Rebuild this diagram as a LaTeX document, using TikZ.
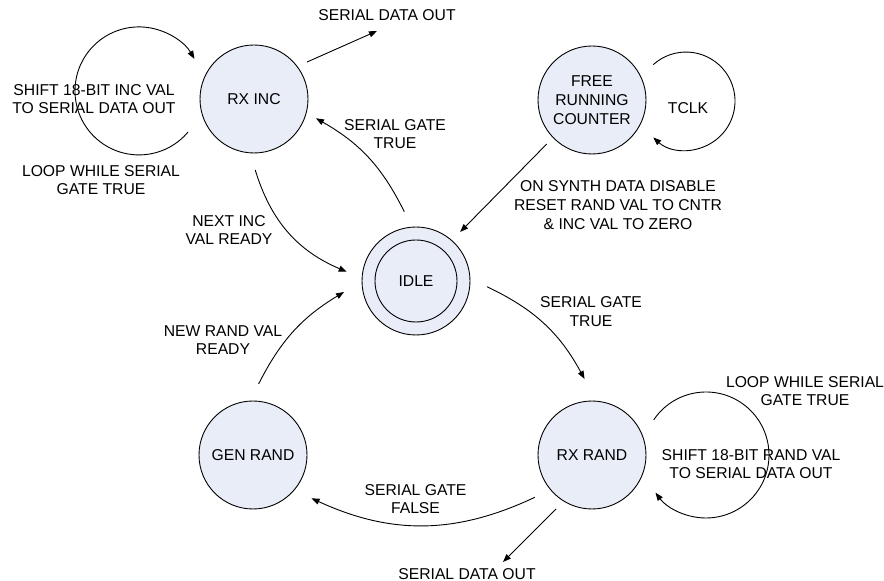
\documentclass[tikz,border=0pt]{standalone}
\usepackage{fontspec}
\setmainfont{Liberation Sans}
\usetikzlibrary{arrows.meta,calc}
\definecolor{statefill}{RGB}{232,237,247}
\newcommand{\diagfont}{\fontsize{15.7}{18.7}\selectfont}
\begin{document}
\begin{tikzpicture}[x=1pt,y=1pt,
  line width=0.9pt,
  state/.style={circle,draw,fill=statefill,minimum size=108pt,inner sep=0pt,
                align=center,font=\diagfont},
  lbl/.style={align=center,font=\diagfont,inner sep=0pt},
  arr/.style={-{Triangle[length=8pt,width=6pt]}}]
\useasboundingbox (0,0) rectangle (884,581);

% states
\node[state] (rxinc)   at (254,482) {RX INC};
\node[state] (free)    at (592,481) {FREE\\RUNNING\\COUNTER};
\node[state] (idle)    at (416,300) {};
\node[state,minimum size=82pt] (idlein) at (idle) {IDLE};
\node[state] (rxrand)  at (592,126) {RX RAND};
\node[state] (genrand) at (253,126) {GEN RAND};

% free ends of the output arrows
\coordinate (sdoA) at (377,550);
\coordinate (sdoB) at (503,19);

% labels
\node[lbl] (sdo1)      at (387,566) {SERIAL DATA OUT};
\node[lbl] (shiftinc)  at (94,482)  {SHIFT 18-BIT INC VAL\\TO SERIAL DATA OUT};
\node[lbl] (loopinc)   at (101,401) {LOOP WHILE SERIAL\\GATE TRUE};
\node[lbl] (sgt1)      at (395,447) {SERIAL GATE\\TRUE};
\node[lbl] (nextinc)   at (229,351) {NEXT INC\\VAL READY};
\node[lbl] (tclk)      at (688,473) {TCLK};
\node[lbl] (onsynth)   at (618,376) {ON SYNTH DATA DISABLE\\RESET RAND VAL TO CNTR\\\& INC VAL TO ZERO};
\node[lbl] (sgt2)      at (591,269.5) {SERIAL GATE\\TRUE};
\node[lbl] (newrand)   at (223,241) {NEW RAND VAL\\READY};
\node[lbl] (looprand)  at (805,190) {LOOP WHILE SERIAL\\GATE TRUE};
\node[lbl] (shiftrand) at (751,117) {SHIFT 18-BIT RAND VAL\\TO SERIAL DATA OUT};
\node[lbl] (sgf)       at (415.5,82) {SERIAL GATE\\FALSE};
\node[lbl] (sdo2)      at (467,7)   {SERIAL DATA OUT};

% transitions
\draw[arr] ($(rxinc)+(34.9:64.6)$) -- (sdoA);
\draw[arr] ($(idle)+(99.6:70.3)$) to[bend right=17] ($(rxinc)+(-17.3:64.9)$);
\draw[arr] ($(rxinc)+(-89:71)$) to[bend right=25] ($(idle)+(172.4:69.9)$);
\draw[arr] ($(free)+(224.2:63.2)$) -- ($(idle)+(48:66)$);
\draw[arr] ($(idle)+(-4.6:71.2)$) to[bend left=18] ($(rxrand)+(95.6:76.4)$);
\draw[arr] ($(genrand)+(85.5:71.2)$) to[bend left=16] ($(idle)+(188.7:72.8)$);
\draw[arr] ($(rxrand)+(216.5:71.1)$) to[bend left=25] ($(genrand)+(-36.5:72.8)$);
\draw[arr] ($(rxrand)+(236.3:64.9)$) -- (sdoB);

% self loops
\draw[arr] ($(free)+(30:70.7)$) arc[start angle=132, end angle=-132, radius=49];
\draw[arr] ($(rxinc)+(206.6:73.8)$) arc[start angle=-40, end angle=-330, radius=64];
\draw[arr] ($(rxrand)+(29.7:71.1)$) arc[start angle=146, end angle=-143.3, radius=63];
\end{tikzpicture}
\end{document}
